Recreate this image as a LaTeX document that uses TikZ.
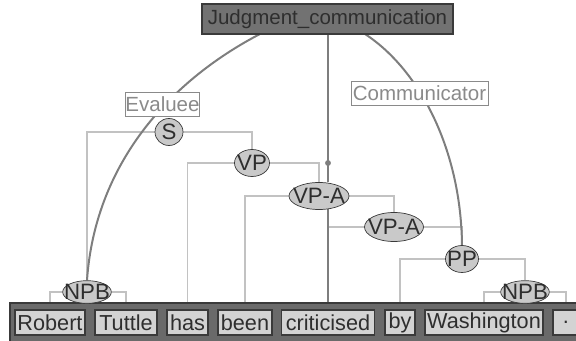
\documentclass[tikz,border=0pt]{standalone}
\usepackage{fontspec}
\setmainfont{Liberation Sans}
\usetikzlibrary{shapes.geometric,backgrounds}

\definecolor{wordgray}{HTML}{D3D3D3}
\definecolor{edgegray}{HTML}{3A3A3A}
\definecolor{inkgray}{HTML}{2E2E2E}
\definecolor{bargray}{HTML}{6A6A6A}
\definecolor{framegray}{HTML}{727272}
\definecolor{phrasegray}{HTML}{C9C9C9}
\definecolor{treegray}{HTML}{C2C2C2}
\definecolor{rolegray}{HTML}{7E7E7E}
\definecolor{labelgray}{HTML}{8A8A8A}

\tikzset{
  word/.style={draw=edgegray, line width=1.1pt, fill=wordgray, text=inkgray,
    inner sep=0pt, minimum height=0.75cm, font=\fontsize{18.5}{20}\selectfont},
  phrase/.style={ellipse, draw=edgegray, line width=0.6pt, fill=phrasegray,
    text=inkgray, inner sep=0pt, minimum height=0.81cm,
    font=\fontsize{19}{20}\selectfont},
  frame/.style={draw=edgegray, line width=1pt, fill=framegray, text=inkgray,
    inner sep=0pt, minimum height=0.9cm},
  role/.style={draw=labelgray, line width=0.8pt, fill=white, text=labelgray,
    inner sep=0pt, minimum height=0.72cm},
  treeline/.style={treegray, line width=1.7pt},
  roleline/.style={rolegray, line width=1.7pt}
}

\begin{document}
\begin{tikzpicture}[x=0.03cm,y=-0.03cm,font=\fontsize{17.5}{20}\selectfont]
\useasboundingbox (0,0) rectangle (576,341);

% sentence bar
\fill[bargray] (10,303) rectangle (590,345);
\draw[edgegray, line width=1.2pt] (10,345) -- (10,303) -- (590,303);

% words
\node[word, minimum width=2.1cm] (robert) at (50,322.5) {Robert};
\node[word, minimum width=1.86cm] (tuttle) at (126,322.5) {Tuttle};
\node[word, minimum width=1.23cm] (has) at (187.5,322.5) {has};
\node[word, minimum width=1.62cm] (been) at (245,322.5) {been};
\node[word, minimum width=2.79cm] (crit) at (328,322.5) {criticised};
\node[word, minimum width=0.9cm] (by) at (400,322.5) {by};
\node[word, minimum width=3.54cm] (wash) at (484,322.5) {Washington};
\node[word, minimum width=0.78cm] (stop) at (566,322.5) {.};

% phrases
\node[phrase, minimum width=0.84cm] (s) at (169,132) {\makebox[0pt]{S}};
\node[phrase, minimum width=1.05cm] (vp) at (252,163) {\makebox[0pt]{VP}};
\node[phrase, minimum width=1.8cm] (vpaA) at (319,196) {\makebox[0pt]{VP-A}};
\node[phrase, minimum width=1.77cm, minimum height=0.87cm] (vpaB) at (394,227) {\makebox[0pt]{VP-A}};
\node[phrase, minimum width=0.99cm] (pp) at (462,259) {\makebox[0pt]{PP}};
\node[phrase, minimum width=1.46cm, minimum height=0.68cm] (npbL) at (87,292) {\makebox[0pt]{NPB}};
\node[phrase, minimum width=1.46cm, minimum height=0.68cm] (npbR) at (525,292) {\makebox[0pt]{NPB}};

% frame and roles
\node[frame, minimum width=7.53cm] (judg) at (327.5,19) {Judgment\_communication};
\node[role, minimum width=2.13cm] (evaluee) at (162.5,104) {Evaluee};
\node[role, minimum width=4.11cm] (communicator) at (419.5,93) {Communicator};
\coordinate (evalStart) at (260,34);
\coordinate (commStart) at (365,34);

\begin{scope}[on background layer]
% parse tree
\draw[treeline] (s) -| (npbL);
\draw[treeline] (s) -| (vp);
\draw[treeline] (vp) -| (has);
\draw[treeline] (vp) -| (vpaA);
\draw[treeline] (vpaA) -| (been);
\draw[treeline] (vpaA) -| (vpaB);
\draw[treeline] (vpaB) -- (vpaB -| crit);
\draw[treeline] (vpaB) -| (pp);
\draw[treeline] (pp) -| (by);
\draw[treeline] (pp) -| (npbR);
\draw[treeline] (npbL) -| (robert);
\draw[treeline] (npbL) -| (tuttle);
\draw[treeline] (npbR) -| (wash);
\draw[treeline] (npbR) -| (stop);
% frame links
\draw[roleline] (judg.south -| crit) -- (vpaA.north -| crit);
\draw[roleline] (vpaA -| crit) -- (crit);
\fill[rolegray] (vp -| crit) circle[radius=2.5pt];
\draw[roleline] (evalStart) .. controls (168,82) and (95,165) .. (npbL.north);
\draw[roleline] (commStart) .. controls (420,70) and (461,150) .. (pp.north);
\end{scope}
\end{tikzpicture}
\end{document}
